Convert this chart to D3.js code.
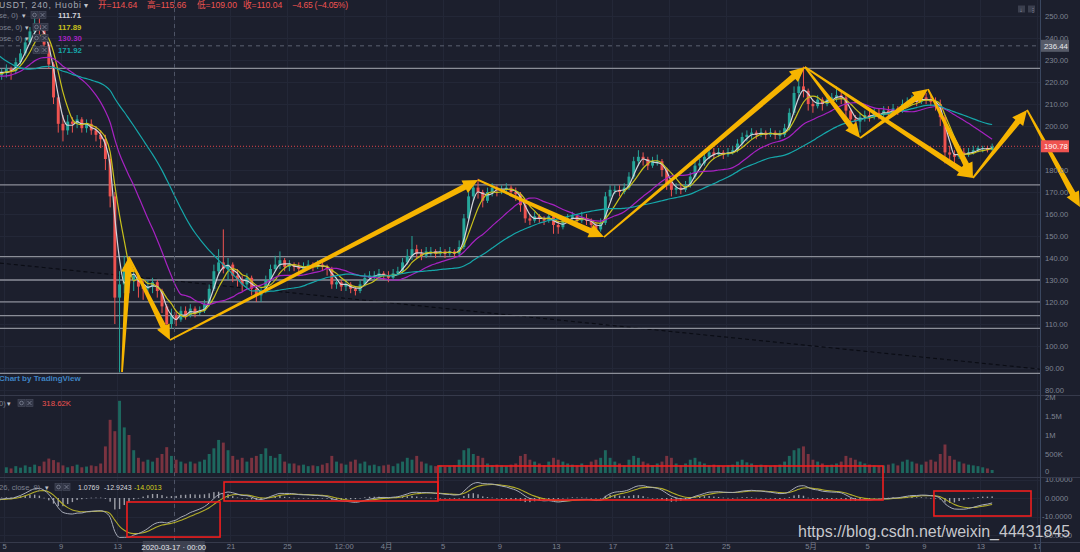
<!DOCTYPE html>
<html><head><meta charset="utf-8">
<script src="https://cdn.jsdelivr.net/npm/d3@7/dist/d3.min.js"></script>
<style>
html,body{margin:0;padding:0;background:#1c1f2d;overflow:hidden;}
svg{display:block;font-family:"Liberation Sans","Noto Sans CJK SC",sans-serif;}
</style></head><body>
<svg id="chart" width="1080" height="552"></svg>
<script>
// ---------- DATA ----------
// 8h candles; warm-up candles from 2020-02-23 00:00 UTC, visible from 2020-03-05
const firstCandle = "2020-02-23T00:00:00Z";
const closesPre = [262,268,272,270,262,264,255,250,248,240,228,225,222,228,227,225,220,226,224,220,217,219,216,218,222,228,231,226,222,224,226,223,224];
const highsPre  = [265,272,276,274,271,266,265,257,252,250,241,230,228,230,230,229,227,228,228,225,222,221,220,220,224,230,233,232,228,226,228,227,226];
const lowsPre   = [257,260,266,266,259,260,253,247,245,236,224,220,218,221,224,221,217,219,221,218,213,215,213,214,217,220,227,223,219,220,222,220,221];
const closes = [
226,225,229,233,238,243,246,244,237,228, 213,201,198,202,201,203,199,201,198,196,
194,185,168,122,128,136,130,132,127,126, 127,129,125,118,110,114,112,116,114,117,
115,116,119,126,134,138,135,137,132,130, 128,131,126,123,125,130,135,137,139,136,
137,136,135,136,137,136,137,136,135,128, 129,127,128,126,125,128,131,132,132,133,
132,131,133,134,138,141,144,142,141,143, 143,142,143,142,143,142,145,158,168,172,
170,166,170,172,171,171,172,170,169,164, 158,157,159,158,157,159,155,154,157,158,
159,157,158,157,155,153,156,168,171,171, 170,172,177,184,186,185,182,184,184,180,
174,171,172,171,173,177,182,183,186,188, 187,188,187,188,189,192,195,196,197,196,
197,196,197,196,196,199,206,215,218,216, 210,209,212,210,212,213,214,213,207,203,
202,204,205,204,206,205,207,206,208,207, 210,211,212,211,213,212,211,210,204,188,
187,186,188,187,188,189,190,190,189,190.78];
const highs = [
228,227,231,235,240,245,250,251,245,238, 229,214,205,205,204,205,204,203,203,200,
198,196,187,170,134,141,138,135,133,130, 130,131,130,126,119,117,116,118,118,119,
118,118,121,128,137,144,153,140,138,135, 132,133,132,127,127,132,137,141,143,140,
139,138,138,138,139,138,139,139,137,136, 131,130,130,129,127,130,133,134,134,135,
134,134,135,136,140,144,150,146,144,145, 145,144,145,144,145,144,148,160,170,175,
176,171,172,174,173,173,174,173,172,170, 165,160,161,160,159,161,160,157,159,160,
161,160,161,160,158,156,158,170,173,173, 173,174,179,186,189,188,186,186,187,185,
181,175,174,174,175,179,184,185,188,190, 190,190,189,190,191,194,197,198,199,198,
199,198,199,198,198,201,208,218,222,227, 217,212,214,213,214,215,218,216,214,208,
205,206,207,207,208,208,209,209,210,209, 212,213,214,213,215,215,214,213,212,205,
191,189,190,190,190,191,191,191,191,192];
const lows = [
222,221,224,228,232,237,241,240,233,226, 210,197,193,196,197,199,197,197,196,193,
190,180,163,110,88,124,124,125,122,121, 123,124,122,115,106,108,109,111,112,113,
113,114,115,118,125,132,133,130,129,127, 125,126,123,120,120,124,129,134,135,134,
134,134,133,134,135,134,135,134,132,126, 126,125,125,124,123,124,127,130,130,131,
130,129,130,132,133,137,139,140,139,140, 141,140,141,140,141,140,141,144,157,166,
167,163,165,168,168,169,169,168,166,161, 156,155,156,156,155,156,151,151,153,156,
157,155,156,155,153,152,152,155,166,169, 168,169,171,176,182,182,180,181,182,177,
171,168,169,169,170,172,176,180,182,185, 185,186,185,186,187,188,191,193,194,194,
195,194,195,194,194,195,198,205,212,213, 207,206,208,207,209,210,211,210,204,200,
199,197,202,202,203,203,204,204,205,205, 206,209,210,209,210,210,209,207,200,183,
184,183,185,185,186,187,188,188,188,189];
const volumesK = [
150,120,180,140,200,160,220,180,300,380, 340,280,200,150,180,220,150,170,200,180,
250,700,1400,1100,1900,1200,1000,600,400,300, 350,300,400,500,680,450,350,300,250,300,
250,300,350,500,650,870,800,600,450,350, 400,300,400,450,500,650,450,400,500,300,
250,250,200,220,180,200,180,220,260,450, 300,250,220,300,350,250,300,200,220,180,
200,220,180,250,300,400,350,450,300,250, 200,180,200,160,180,200,350,600,650,500,
450,400,250,200,220,200,180,220,250,450, 500,350,300,250,200,300,400,350,300,250,
220,200,250,200,300,350,400,600,400,300, 250,200,350,450,400,300,250,200,250,300,
450,400,250,200,250,350,400,300,250,200, 220,200,180,200,220,300,350,280,250,200,
220,200,180,200,220,300,450,600,650,700, 500,350,300,250,200,220,250,300,450,400,
350,300,250,220,200,180,200,220,250,200, 300,350,300,250,220,300,350,300,500,750,
450,350,300,250,220,200,180,150,120,80];

const maPeriods = [3,5,15,30];                 // 8h equivalents of MA 5/10/30/60 on 4h
const maColors  = ["#d2d3da","#c8c11c","#a722c2","#16a7aa"];
const supportLevels = [226.2,173.2,140.6,130.0,120.1,113.8,108.0,87.6];
const lastPrice = 190.78, crossPrice = 236.44, crossTime = "2020-03-17T00:00:00Z";
const trendLine = [["2020-03-04T17:00:00Z",137.7],["2020-05-17T05:00:00Z",89.5]];
const priceTicks = [250,240,230,220,210,200,190,180,170,160,150,140,130,120,110,100,90,80];
const volTicks = [0,500,1000,1500,2000];
const volTickLabels = ["0","500K","1M","1.5M","2M"];
const macdTicks = [10,0,-10,-20];
const xTickDates = ["2020-03-05","2020-03-09","2020-03-13","2020-03-17","2020-03-21","2020-03-25","2020-03-29","2020-04-01","2020-04-05","2020-04-09","2020-04-13","2020-04-17","2020-04-21","2020-04-25","2020-05-01","2020-05-05","2020-05-09","2020-05-13","2020-05-17"];
const xTickLabels = ["5","9","13","","21","25","12:00","4月","5","9","13","17","21","25","5月","5","9","13","17"];
const arrowPoints = [
 ["2020-03-13T08:10:00Z",88.2],["2020-03-13T19:55:00Z",140.5],["2020-03-16T17:30:00Z",102.7],
 ["2020-04-07T12:00:00Z",175.5],["2020-04-16T09:36:00Z",149.5],["2020-04-30T14:24:00Z",226.8],
 ["2020-05-04T12:00:00Z",194.5],["2020-05-09T07:12:00Z",216.8],["2020-05-12T11:30:00Z",176.4],
 ["2020-05-16T07:12:00Z",207.3],["2020-05-20T01:00:00Z",163.2]];
const arrowLinks = [[0,1],[1,2],[2,3],[3,4],[4,5],[5,6],[5,8],[6,7],[7,8],[8,9],[9,10]];
// red annotation boxes: [start, end, macdTop, macdBottom]
const redBoxes = [
 ["2020-03-13T16:36:00Z","2020-03-20T06:29:00Z",-2.16,-21.1],
 ["2020-03-20T13:12:00Z","2020-04-04T16:06:00Z",8.65,-1.62],
 ["2020-04-04T16:06:00Z","2020-05-06T02:53:00Z",17.3,-1.08],
 ["2020-05-09T17:17:00Z","2020-05-16T13:55:00Z",3.78,-9.73]];
const headerOHLC = [["开=","114.64",98],["高=","115.66",147],["低=","109.00",197],["收=","110.04",243]];
const headerChange = "−4.65 (−4.05%)";
const maHeader = [["se, 0)","111.71"],["ose, 0)","117.89"],["ose, 0)","130.30"],["","171.92"]];
const volHeaderValue = "318.62K";
const macdHeaderValues = [["1.0769","#d6d8de"],["-12.9243","#d6d8de"],["-14.0013","#d4cf1c"]];

// ---------- SETUP ----------
const svg = d3.select("#chart");
const COL = {bg:"#1c1f2d", grid:"#232737", text:"#7f8493", up:"#26a69a", down:"#ef5350",
  volUp:"#1d675e", volDown:"#7a3340", level:"#8b8e98", sep:"#363a4b", arrow:"#f6b400"};
const H8 = 8*3600e3;
const t0 = new Date(firstCandle).getTime();
const nPre = closesPre.length;
const allC = closesPre.concat(closes), allH = highsPre.concat(highs), allL = lowsPre.concat(lows);
const candles = allC.map((c,g)=>{
  const o = g ? allC[g-1] : c;
  return {g, mid:new Date(t0+g*H8+H8/2), o, c, h:Math.max(allH[g],o,c), l:Math.min(allL[g],o,c),
          v: g>=nPre ? volumesK[g-nPre] : null};
});

const x = d3.scaleUtc().domain([new Date("2020-03-05T00:00:00Z"), new Date("2020-05-17T00:00:00Z")]).range([4, 4+73*14.15]);
const y = d3.scaleLinear().domain([80,250]).range([390,16]);
const yv = d3.scaleLinear().domain([0,2000]).range([473,397]);
const ym = d3.scaleLinear().domain([-20,10]).range([535,479.5]);
const pitch = x(new Date(t0+H8)) - x(new Date(t0));
const bodyW = pitch*0.62;

svg.append("rect").attr("width",1080).attr("height",552).attr("fill",COL.bg);
const defs = svg.append("defs");
defs.append("clipPath").attr("id","cMain").append("rect").attr("x",0).attr("y",0).attr("width",1040).attr("height",395);
defs.append("clipPath").attr("id","cVol").append("rect").attr("x",0).attr("y",396).attr("width",1040).attr("height",81);
defs.append("clipPath").attr("id","cMacd").append("rect").attr("x",0).attr("y",478).attr("width",1040).attr("height",64);
defs.append("clipPath").attr("id","cAxis").append("rect").attr("x",0).attr("y",540).attr("width",1040).attr("height",12);
defs.append("clipPath").attr("id","cMacdAx").append("rect").attr("x",1040).attr("y",478).attr("width",40).attr("height",64);

// ---------- GRID ----------
const grid = svg.append("g");
xTickDates.forEach(d=>{
  const xx = Math.round(x(new Date(d+"T00:00:00Z")))+0.5;
  if (xx<1040) grid.append("line").attr("x1",xx).attr("x2",xx).attr("y1",0).attr("y2",542).attr("stroke",COL.grid).attr("stroke-width",1);
});
priceTicks.forEach(p=>{ const yy=Math.round(y(p))+0.5;
  grid.append("line").attr("x1",0).attr("x2",1040).attr("y1",yy).attr("y2",yy).attr("stroke",COL.grid);});
macdTicks.forEach(v=>{ const yy=Math.round(ym(v))+0.5;
  grid.append("line").attr("x1",0).attr("x2",1040).attr("y1",yy).attr("y2",yy).attr("stroke",COL.grid);});

// ---------- MAIN PANE ----------
const main = svg.append("g").attr("clip-path","url(#cMain)");
main.append("line").attr("x1",x(new Date(trendLine[0][0]))).attr("y1",y(trendLine[0][1]))
  .attr("x2",x(new Date(trendLine[1][0]))).attr("y2",y(trendLine[1][1]))
  .attr("stroke","#0a0c14").attr("stroke-width",1.1).attr("stroke-dasharray","4,3");
supportLevels.forEach(p=>{
  main.append("line").attr("x1",0).attr("x2",1040).attr("y1",y(p)).attr("y2",y(p))
    .attr("stroke",COL.level).attr("stroke-width",1.3);
});
main.append("line").attr("x1",0).attr("x2",1040).attr("y1",y(lastPrice)).attr("y2",y(lastPrice))
  .attr("stroke","#e0464a").attr("stroke-width",1).attr("stroke-dasharray","1,2");
main.append("line").attr("x1",0).attr("x2",1040).attr("y1",y(crossPrice)).attr("y2",y(crossPrice))
  .attr("stroke","#5c6172").attr("stroke-dasharray","4,4");
svg.append("line").attr("x1",Math.round(x(new Date(crossTime)))+0.5).attr("x2",Math.round(x(new Date(crossTime)))+0.5)
  .attr("y1",0).attr("y2",542).attr("stroke","#4e5466").attr("stroke-dasharray","4,4");

const vis = candles.filter(d=>x(d.mid)>-6);
main.selectAll("line.wick").data(vis).join("line").attr("class","wick")
  .attr("x1",d=>x(d.mid)).attr("x2",d=>x(d.mid)).attr("y1",d=>y(d.h)).attr("y2",d=>y(d.l))
  .attr("stroke",d=>d.c>=d.o?COL.up:COL.down).attr("stroke-width",1);
main.selectAll("rect.body").data(vis).join("rect").attr("class","body")
  .attr("x",d=>x(d.mid)-bodyW/2).attr("width",bodyW)
  .attr("y",d=>y(Math.max(d.o,d.c))).attr("height",d=>Math.max(1,Math.abs(y(d.o)-y(d.c))))
  .attr("fill",d=>d.c>=d.o?COL.up:COL.down);

maPeriods.forEach((n,k)=>{
  const pts = candles.map((d,i)=> i>=n-1 ? {mid:d.mid, v:d3.mean(allC.slice(i-n+1,i+1))} : null)
    .filter(d=>d && x(d.mid)>-12);
  main.append("path").datum(pts)
    .attr("d",d3.line().x(d=>x(d.mid)).y(d=>y(d.v)).curve(d3.curveMonotoneX))
    .attr("fill","none").attr("stroke",maColors[k]).attr("stroke-width",1.2);
});

// ---------- VOLUME PANE ----------
const volG = svg.append("g").attr("clip-path","url(#cVol)");
volG.selectAll("rect").data(vis.filter(d=>d.v!==null)).join("rect")
  .attr("x",d=>x(d.mid)-bodyW/2).attr("width",bodyW)
  .attr("y",d=>yv(d.v)).attr("height",d=>yv(0)-yv(d.v))
  .attr("fill",d=>d.c>=d.o?COL.volUp:COL.volDown);

// ---------- MACD PANE ----------
function ema(arr,a){let p=arr[0];return arr.map((v,i)=>(p = i? p+a*(v-p) : v));}
const fast = ema(allC, 1-Math.pow(11/13,2)), slow = ema(allC, 1-Math.pow(25/27,2));
const macd = fast.map((f,i)=>f-slow[i]);
const signal = ema(macd, 1-Math.pow(0.8,2));
const mData = candles.map((d,i)=>({mid:d.mid, m:macd[i], s:signal[i], h:macd[i]-signal[i]})).filter(d=>x(d.mid)>-12);
const mg = svg.append("g").attr("clip-path","url(#cMacd)");
mg.selectAll("rect").data(mData).join("rect")
  .attr("x",d=>x(d.mid)-0.7).attr("width",1.4)
  .attr("y",d=>Math.min(ym(0),ym(d.h))).attr("height",d=>Math.max(0.6,Math.abs(ym(d.h)-ym(0))))
  .attr("fill","#c9cbd2").attr("opacity",0.75);
mg.append("path").datum(mData).attr("d",d3.line().x(d=>x(d.mid)).y(d=>ym(d.s)).curve(d3.curveMonotoneX))
  .attr("fill","none").attr("stroke","#b2ad28").attr("stroke-width",1.1);
mg.append("path").datum(mData).attr("d",d3.line().x(d=>x(d.mid)).y(d=>ym(d.m)).curve(d3.curveMonotoneX))
  .attr("fill","none").attr("stroke","#a8acb8").attr("stroke-width",1);

// ---------- PANE SEPARATORS ----------
[395.5,477.5,542.5].forEach(yy=>svg.append("line").attr("x1",0).attr("x2",1080).attr("y1",yy).attr("y2",yy).attr("stroke",COL.sep).attr("stroke-width",1.2));
svg.append("line").attr("x1",1040.5).attr("x2",1040.5).attr("y1",0).attr("y2",552).attr("stroke","#3a4760").attr("stroke-width",1);

// ---------- ARROWS ----------
function arrowPoly(x1,y1,x2,y2){
  const dx=x2-x1, dy=y2-y1, L=Math.hypot(dx,dy), ux=dx/L, uy=dy/L, nx=-uy, ny=ux;
  const hl=Math.min(15,L*0.35), hw=7, w0=0.9, w1=3;
  const bx=x2-ux*hl, by=y2-uy*hl;
  return [[x1+nx*w0,y1+ny*w0],[bx+nx*w1,by+ny*w1],[bx+nx*hw,by+ny*hw],[x2,y2],
          [bx-nx*hw,by-ny*hw],[bx-nx*w1,by-ny*w1],[x1-nx*w0,y1-ny*w0]];
}
const arrG = svg.append("g");
arrowLinks.forEach(([a,b])=>{
  const p=arrowPoints[a], q=arrowPoints[b];
  const pts = arrowPoly(x(new Date(p[0])),y(p[1]),x(new Date(q[0])),y(q[1]));
  arrG.append("path").attr("d","M"+pts.map(d=>d.join(",")).join("L")+"Z").attr("fill",COL.arrow);
});

// ---------- RED BOXES ----------
redBoxes.forEach(([s,e,t,b])=>{
  svg.append("rect").attr("x",x(new Date(s))).attr("y",ym(t)).attr("width",x(new Date(e))-x(new Date(s)))
    .attr("height",ym(b)-ym(t)).attr("fill","none").attr("stroke","#f01e1e").attr("stroke-width",1.6);
});

// ---------- AXES ----------
const fs = "7.6px";
const pAx = svg.append("g").attr("transform","translate(1040,0)")
  .call(d3.axisRight(y).tickValues(priceTicks).tickFormat(d=>d.toFixed(2)).tickSize(0).tickPadding(5));
const vAx = svg.append("g").attr("transform","translate(1040,0)")
  .call(d3.axisRight(yv).tickValues(volTicks).tickFormat((d,i)=>volTickLabels[i]).tickSize(0).tickPadding(5));
const mAx = svg.append("g").attr("clip-path","url(#cMacdAx)").append("g").attr("transform","translate(1040,0)")
  .call(d3.axisRight(ym).tickValues(macdTicks).tickFormat(d=>d.toFixed(4)).tickSize(0).tickPadding(5));
const xAx = svg.append("g").attr("clip-path","url(#cAxis)").append("g").attr("transform","translate(0,543)")
  .call(d3.axisBottom(x).tickValues(xTickDates.map(d=>new Date(d+"T00:00:00Z"))).tickFormat((d,i)=>xTickLabels[i]).tickSize(0).tickPadding(1));
[pAx,vAx,mAx,xAx].forEach(g=>{
  g.select(".domain").remove();
  g.selectAll("text").attr("fill",COL.text).style("font-size",fs).style("font-family","Liberation Sans, Noto Sans CJK SC, sans-serif");
});
mAx.selectAll("text").attr("dx",d=>d<0?"-3":"0");
vAx.selectAll("text").attr("dy",d=>d===0?"0.1em":"0.32em");

function axisBox(yy,txt,fill,tc){
  svg.append("rect").attr("x",1041).attr("y",yy-6).attr("width",28).attr("height",12).attr("fill",fill);
  svg.append("text").attr("x",1044).attr("y",yy+3).text(txt).attr("fill",tc).style("font-size","7.8px");
}
axisBox(y(crossPrice),crossPrice.toFixed(2),"#565a68","#e8e9ee");
axisBox(y(lastPrice),lastPrice.toFixed(2),"#ef5350","#ffffff");
const cx = x(new Date(crossTime));
svg.append("rect").attr("x",cx-31).attr("y",541).attr("width",62).attr("height",11).attr("fill","#3d4150");
svg.append("text").attr("x",cx).attr("y",549.5).attr("text-anchor","middle").text("2020-03-17 · 00:00")
  .attr("fill","#e6e7ec").style("font-size","7.6px");

// ---------- HEADERS ----------
function icons(g,x0,yc){
  [0,8].forEach(o=>{
    g.append("rect").attr("x",x0+o).attr("y",yc-3.5).attr("width",7).attr("height",7).attr("fill","#303445").attr("stroke","#4a4f60").attr("stroke-width",0.6);
  });
  g.append("circle").attr("cx",x0+3.5).attr("cy",yc).attr("r",1.8).attr("fill","none").attr("stroke","#8a8fa0").attr("stroke-width",0.7);
  g.append("path").attr("d",`M${x0+9.5},${yc-2}L${x0+13.5},${yc+2}M${x0+13.5},${yc-2}L${x0+9.5},${yc+2}`).attr("stroke","#8a8fa0").attr("stroke-width",0.7);
}
const hd = svg.append("g");
hd.append("text").attr("x",-1).attr("y",8).text("USDT, 240, Huobi").attr("fill","#a6aab4").style("font-size","8.6px").attr("textLength",82);
hd.append("text").attr("x",84).attr("y",8).text("▾").attr("fill","#c0c3cc").style("font-size","8px").style("font-family","DejaVu Sans");
headerOHLC.forEach(([lab,val,xx])=>{
  const t=hd.append("text").attr("x",xx).attr("y",8).style("font-size","8.6px");
  t.append("tspan").text(lab).attr("fill","#ef5350");
  t.append("tspan").text(val).attr("fill","#ef5350");
});
hd.append("text").attr("x",292).attr("y",8).text(headerChange).attr("fill","#ef5350").style("font-size","8.6px").attr("textLength",56);
const maRowsY = [15,27,38,50];
maHeader.forEach(([lab,val],k)=>{
  const yc = maRowsY[k];
  if (lab){
    hd.append("text").attr("x",-1).attr("y",yc+3).text(lab).attr("fill","#7c8190").style("font-size","7.6px");
    hd.append("text").attr("x",lab.length>6?25:22).attr("y",yc+3).text("▾").attr("fill","#c0c3cc").style("font-size","7px").style("font-family","DejaVu Sans");
  }
  icons(hd, k===0?31:33, yc);
  hd.append("text").attr("x",58).attr("y",yc+3).text(val).attr("fill",maColors[k]).style("font-size","7.8px").style("font-weight","bold");
});
svg.append("text").attr("x",-1).attr("y",381).text("Chart by TradingView").attr("fill","#3f84c4").style("font-size","8px").style("font-weight","bold");
hd.append("text").attr("x",-1).attr("y",406).text("0)").attr("fill","#7c8190").style("font-size","7.6px");
hd.append("text").attr("x",7).attr("y",406).text("▾").attr("fill","#c0c3cc").style("font-size","7px").style("font-family","DejaVu Sans");
icons(hd,18,403);
hd.append("text").attr("x",42).attr("y",406).text(volHeaderValue).attr("fill","#ef5350").style("font-size","7.8px");
hd.append("text").attr("x",-1).attr("y",490).text("26, close, 9)").attr("fill","#7c8190").style("font-size","7.6px");
hd.append("text").attr("x",45).attr("y",490).text("▾").attr("fill","#c0c3cc").style("font-size","7px").style("font-family","DejaVu Sans");
icons(hd,55,487);
[78,104,134].forEach((xx,i)=>hd.append("text").attr("x",xx).attr("y",490).text(macdHeaderValues[i][0])
  .attr("fill",macdHeaderValues[i][1]).style("font-size","7px"));
[1018,1028].forEach(xx=>svg.append("rect").attr("x",xx).attr("y",5.5).attr("width",7).attr("height",7).attr("fill","#3b3f4e"));
svg.append("text").attr("x",1019.5).attr("y",11.5).text("↓").attr("fill","#9a9eab").style("font-size","6px");
svg.append("text").attr("x",1030).attr("y",11.5).text("⋮").attr("fill","#9a9eab").style("font-size","6px");

// ---------- WATERMARK ----------
svg.append("text").attr("x",798).attr("y",537).text("https://blog.csdn.net/weixin_44431845")
  .attr("fill","#d9dadf").attr("opacity",0.9).style("font-size","16px")
  .style("paint-order","stroke").attr("stroke","#15171f").attr("stroke-width",0.8).attr("stroke-opacity",0.5);
</script></body></html>
